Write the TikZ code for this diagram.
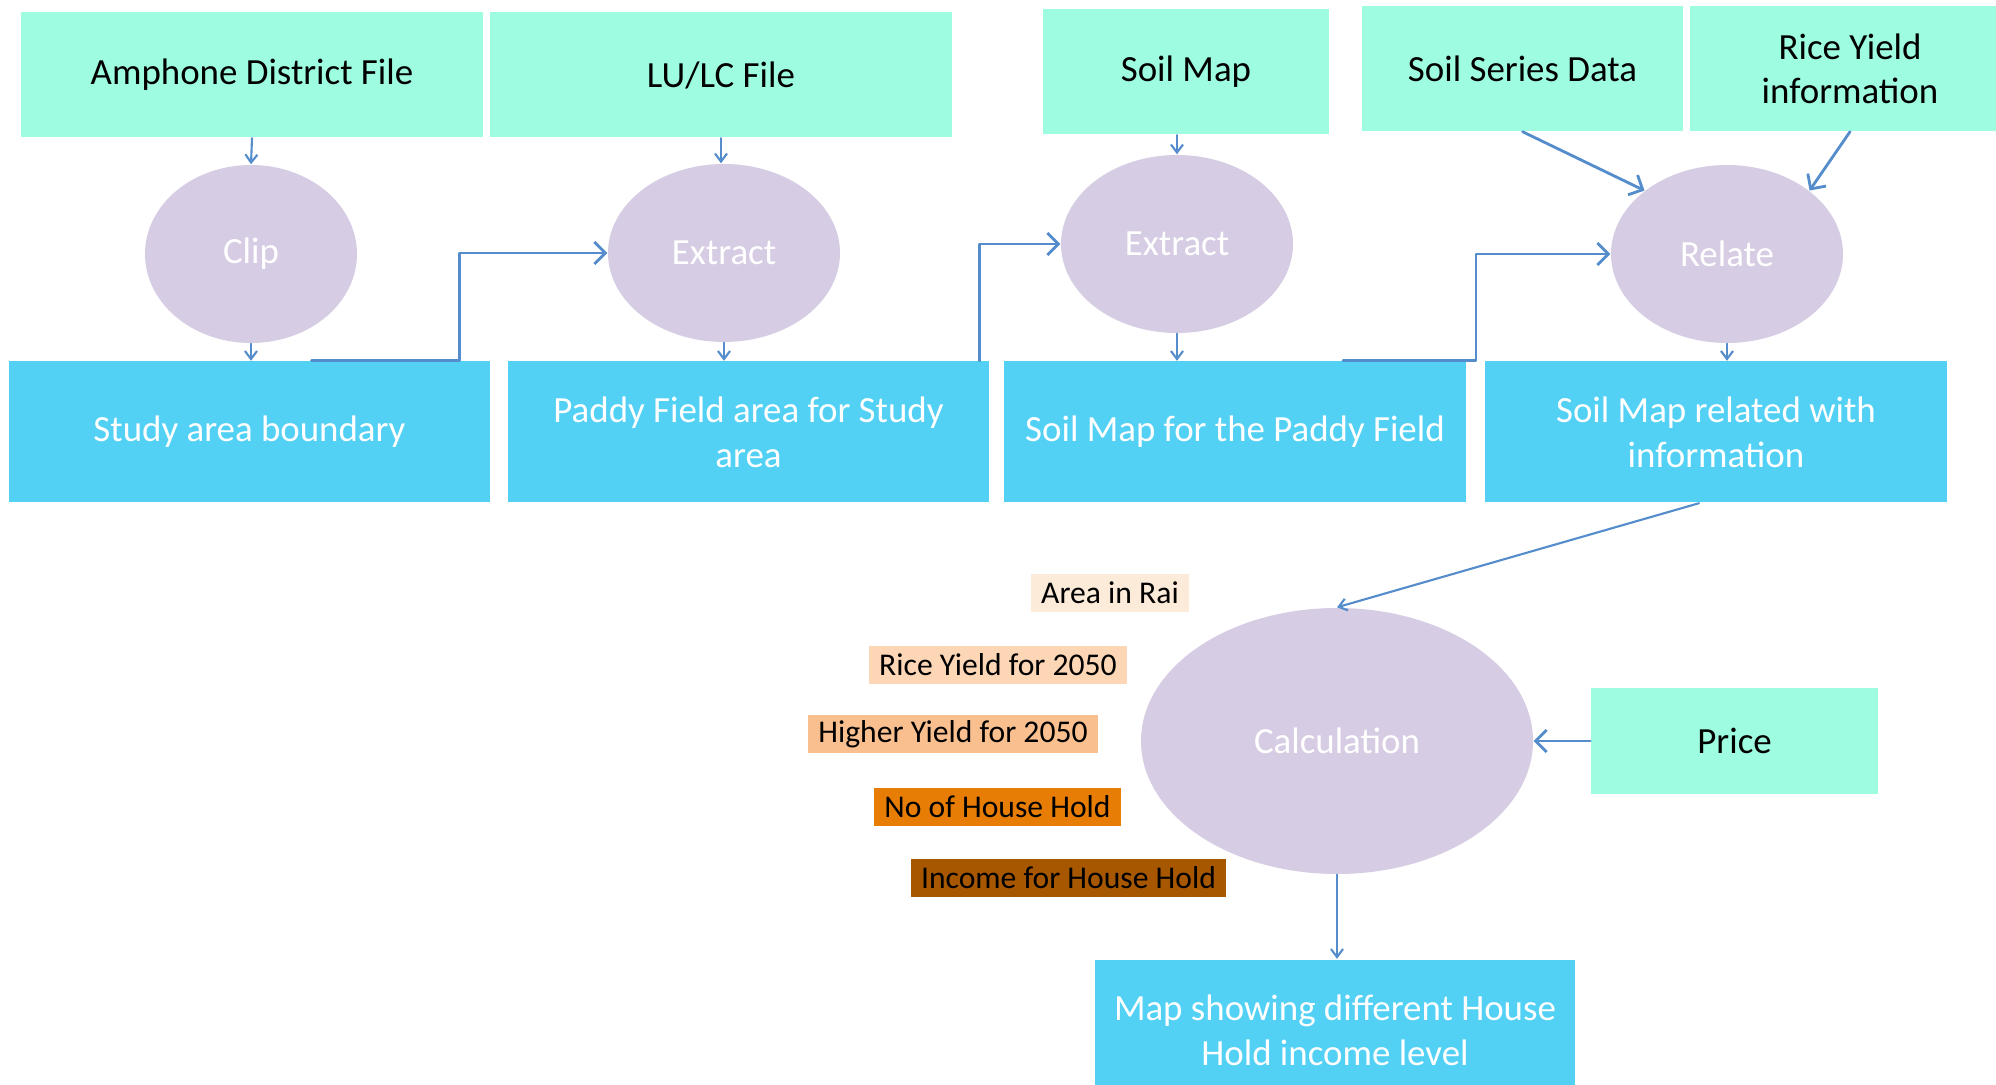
\documentclass[tikz,border=0pt]{standalone}
\usepackage{fontspec}
\setmainfont{Carlito}
\usetikzlibrary{arrows.meta,shapes.geometric}
\definecolor{ccffee}{rgb}{0.62,0.99,0.88}
\definecolor{qqccff}{rgb}{0.32,0.82,0.96}
\definecolor{ddccee}{rgb}{0.84,0.80,0.89}
\definecolor{qqttcc}{rgb}{0.33,0.55,0.80}
\definecolor{ffeedd}{rgb}{0.99,0.92,0.85}
\definecolor{ffddbb}{rgb}{0.99,0.84,0.71}
\definecolor{ffcc99}{rgb}{0.98,0.75,0.56}
\definecolor{eettqq}{rgb}{0.91,0.49,0.02}
\definecolor{aattqq}{rgb}{0.65,0.34,0.0}

\begin{document}
\begin{tikzpicture}[x=0.1mm,y=-0.1mm,line cap=round,line join=round,
inbox/.style={rectangle,fill=ccffee,text=black,minimum height=12.5mm,font=\fontsize{10.5}{12.6}\selectfont,align=center,inner sep=0pt},
outbox/.style={rectangle,fill=qqccff,text=white,minimum height=14.1mm,font=\fontsize{10.5}{12.8}\selectfont,align=center,inner sep=0pt},
task/.style={ellipse,fill=ddccee,text=white,minimum width=23.2mm,minimum height=17.8mm,font=\fontsize{10.5}{12.6}\selectfont,inner sep=0pt},
tag/.style={rectangle,text=black,minimum height=3.8mm,inner xsep=1mm,inner ysep=0pt,font=\fontsize{9}{11}\selectfont},
link/.style={-{Straight Barb[length=0.8mm,width=1.2mm]},draw=qqttcc,line width=0.6pt},
elbow/.style={-{Straight Barb[length=1.1mm,width=2.2mm]},draw=qqttcc,line width=0.8pt}]
\fill[white] (0,0) rectangle (1996,1085);
\useasboundingbox (0,0) rectangle (1996,1085);
% inputs
\node[inbox,minimum width=46.2mm] (amphone) at (252,75) {Amphone District File};
\node[inbox,minimum width=46.2mm] (lulc) at (721,75) {LU/LC File};
\node[inbox,minimum width=28.6mm] (soilmap) at (1186,72) {Soil Map};
\node[inbox,minimum width=32.1mm] (series) at (1522.5,68.5) {Soil Series Data};
\node[inbox,minimum width=32mm] (riceinfo) at (1850,68.5) {Rice Yield\\information};
% tasks
\node[task,minimum width=21.2mm] (clip) at (251,254) {Clip};
\node[task] (extract1) at (724,253) {Extract};
\node[task] (extract2) at (1177,244) {Extract};
\node[task] (relate) at (1727,254) {Relate};
\node[task,minimum width=39.2mm,minimum height=26.6mm] (calc) at (1337,741) {Calculation};
% outputs
\node[outbox,minimum width=48.1mm] (study) at (249.5,432) {Study area boundary};
\node[outbox,minimum width=48.1mm] (paddy) at (748.5,432) {Paddy Field area for Study\\area};
\node[outbox,minimum width=46.2mm] (soilpaddy) at (1235,432) {Soil Map for the Paddy Field};
\node[outbox,minimum width=46.2mm] (related) at (1716,432) {Soil Map related with\\information};
\node[outbox,minimum width=48mm] (mapbox) at (1335,1030) {Map showing different House\\Hold income level};
\node[inbox,minimum width=28.7mm,minimum height=10.6mm] (price) at (1734.5,741) {Price};
% tags
\node[tag,fill=ffeedd,minimum width=15.2mm] (rai) at (1110,593) {Area in Rai};
\node[tag,fill=ffddbb,minimum width=25.4mm] (yield) at (998,665) {Rice Yield for 2050};
\node[tag,fill=ffcc99,minimum width=28.6mm] (higher) at (953,734) {Higher Yield for 2050};
\node[tag,fill=eettqq,minimum width=24.1mm] (households) at (997.5,807) {No of House Hold};
\node[tag,fill=aattqq,minimum width=31.3mm] (income) at (1068.5,878) {Income for House Hold};
% connectors
\draw[link] (amphone.south) -- (clip.north);
\draw[link] (clip.south) -- (clip.south |- study.north);
\draw[elbow] ([xshift=6.2mm]study.north) -- ++(148,0) |- (extract1.west);
\draw[link] (lulc.south) -- (lulc.south |- extract1.north);
\draw[link] (extract1.south) -- (extract1.south |- paddy.north);
\draw[elbow] ([xshift=-1mm]paddy.north east) |- (extract2.west);
\draw[link] (extract2.north |- soilmap.south) -- (extract2.north);
\draw[link] (extract2.south) -- (extract2.south |- soilpaddy.north);
\draw[elbow] ([xshift=10.8mm]soilpaddy.north) -- ++(133,0) |- (relate.west);
\draw[elbow] (series.south) -- (relate.north west);
\draw[elbow] (riceinfo.south) -- (relate.north east);
\draw[link] (relate.south) -- (relate.south |- related.north);
\draw[link] ([xshift=-1.7mm]related.south) -- (calc.north);
\draw[elbow] (price.west) -- (calc.east);
\draw[link] (calc.south) -- (calc.south |- mapbox.north);
\end{tikzpicture}
\end{document}
